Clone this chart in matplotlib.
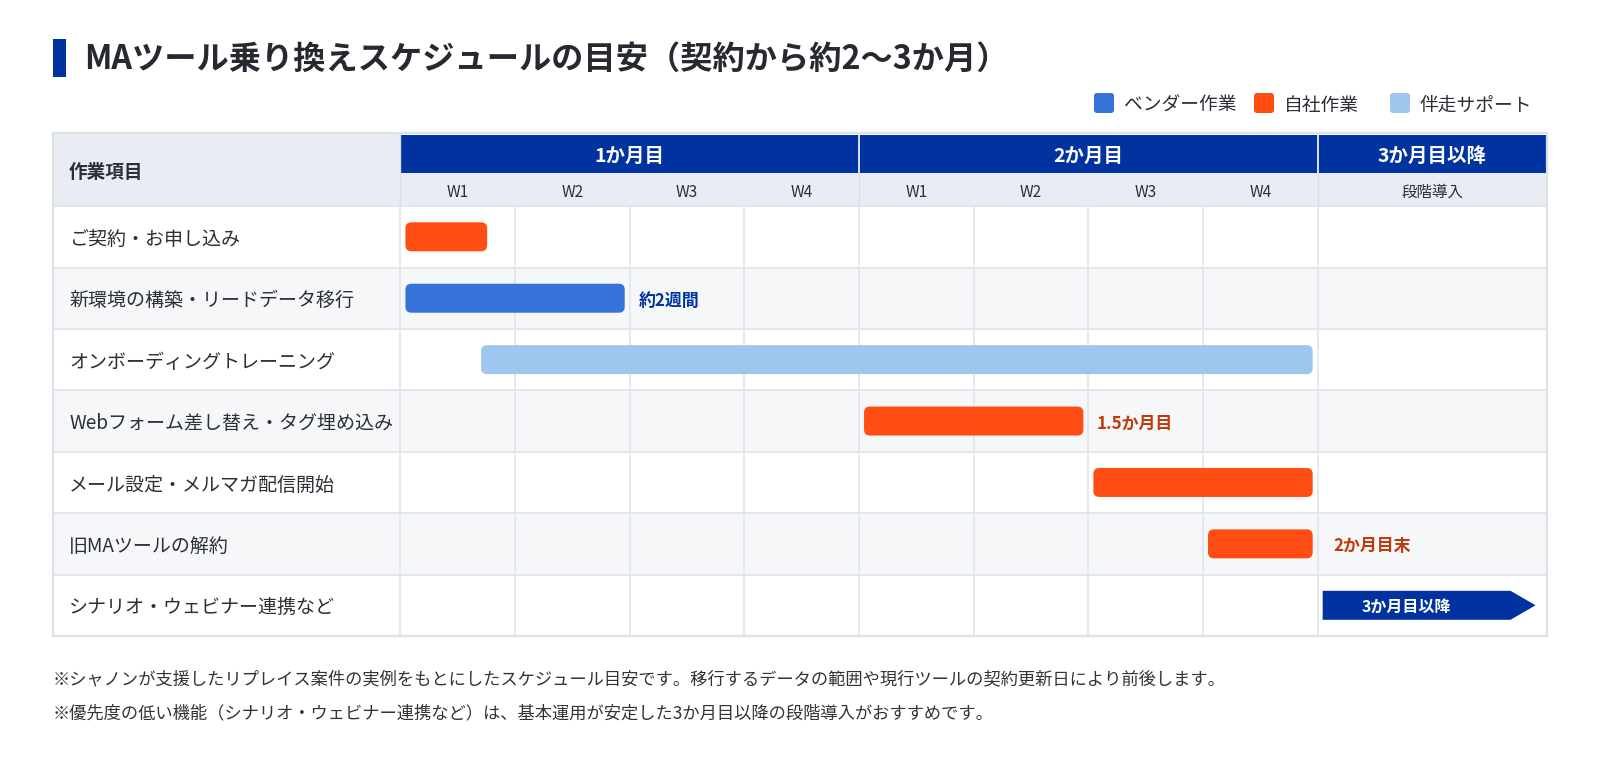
import matplotlib
matplotlib.use("Agg")
import matplotlib.pyplot as plt
from matplotlib.patches import Rectangle, FancyBboxPatch, Polygon

plt.rcParams['font.family'] = ['Noto Sans CJK JP', 'DejaVu Sans']

# ---------------- data ----------------
TITLE = "MAツール乗り換えスケジュールの目安（契約から約2〜3か月）"
LEGEND_LABELS = ["ベンダー作業", "自社作業", "伴走サポート"]
LEGEND_KINDS = ["vendor", "self", "support"]

MONTH_LABELS = ["1か月目", "2か月目", "3か月目以降"]
MONTH_START = [0, 4, 8]
MONTH_END = [4, 8, 10]
WEEK_LABELS = ["W1", "W2", "W3", "W4", "W1", "W2", "W3", "W4", "段階導入"]
WEEK_CENTERS = [0.5, 1.5, 2.5, 3.5, 4.5, 5.5, 6.5, 7.5, 9.0]

TASKS = ["ご契約・お申し込み",
         "新環境の構築・リードデータ移行",
         "オンボーディングトレーニング",
         "Webフォーム差し替え・タグ埋め込み",
         "メール設定・メルマガ配信開始",
         "旧MAツールの解約",
         "シナリオ・ウェビナー連携など"]
TASK_START = [0, 0, 0.66, 4, 6, 7, 8]        # weeks
TASK_END = [0.8, 2, 8, 6, 8, 8, 9.9]         # weeks
TASK_KIND = ["self", "vendor", "support", "self", "self", "self", "phase"]

ANNOT_TASK = [1, 3, 5]
ANNOT_TEXT = ["約2週間", "1.5か月目", "2か月目末"]
ANNOT_X = [2.076, 6.07, 8.137]
ANNOT_KIND = ["vendor_text", "self_text", "self_text"]
PHASE_TEXT = "3か月目以降"
PHASE_TEXT_X = 8.77

NOTES = ["※シャノンが支援したリプレイス案件の実例をもとにしたスケジュール目安です。移行するデータの範囲や現行ツールの契約更新日により前後します。",
         "※優先度の低い機能（シナリオ・ウェビナー連携など）は、基本運用が安定した3か月目以降の段階導入がおすすめです。"]

# ---------------- style ----------------
COL = {"vendor": "#3573d9", "self": "#ff4d14", "support": "#9ec6ef",
       "phase": "#00339f", "vendor_text": "#00339f", "self_text": "#c0390b"}
NAVY = "#00339f"
HEAD_BG = "#e8ecf3"
ALT_BG = "#f6f7f9"
GRID = "#e1e5ec"
TEXT = "#2b2f36"

W, H = 1600, 773
fig = plt.figure(figsize=(16, 7.73), dpi=100)
fig.patch.set_facecolor("white")

def fx(px):
    return px / W

def fy(py):
    return 1 - py / H

# table axes (pixel box 53..1547 x 133..636)
LABEL_W = 3.03
N = len(TASKS)
HEAD = 1.19
WEEKROW = 0.54
ax = fig.add_axes([fx(53), fy(636), (1547 - 53) / W, (636 - 133) / H])
ax.set_xlim(-LABEL_W, 10)
ax.set_ylim(N, -HEAD)
ax.axis("off")

px_x = (1547 - 53) / (10 + LABEL_W)       # px per week
px_y = (636 - 133) / (N + HEAD)           # px per row
inset = 5 / px_x
bar_h = 29 / px_y
rad = 6 / px_x
aspect = px_x / px_y
dy = 2.5 / px_y                           # text baseline nudge

# header
ax.add_patch(Rectangle((-LABEL_W, -HEAD), LABEL_W, HEAD, fc=HEAD_BG, ec="none", zorder=0))
ax.add_patch(Rectangle((0, -WEEKROW), 10, WEEKROW, fc=HEAD_BG, ec="none", zorder=0))
for s, e, lab in zip(MONTH_START, MONTH_END, MONTH_LABELS):
    ax.add_patch(Rectangle((s, -HEAD + 0.03), e - s, HEAD - WEEKROW - 0.03, fc=NAVY,
                           ec="none", zorder=0.5))
    ax.text((s + e) / 2, (-HEAD + 0.03 - WEEKROW) / 2 + dy, lab, color="white", fontsize=14,
            fontweight="bold", ha="center", va="center", zorder=5)
for s in MONTH_START[1:]:
    ax.plot([s, s], [-HEAD, -WEEKROW], color="white", lw=1.2, zorder=1)
    ax.plot([s, s], [-WEEKROW, 0], color="#d9dee7", lw=1.0, zorder=1)
ax.plot([0, 0], [-HEAD, 0], color="#d9dee7", lw=1.0, zorder=1)
for c, lab in zip(WEEK_CENTERS, WEEK_LABELS):
    ax.text(c, -WEEKROW / 2 + dy, lab, color=TEXT, fontsize=11.2, ha="center", va="center",
            zorder=5)
ax.text(-LABEL_W + 16 / px_x, -HEAD / 2 + dy, "作業項目", color=TEXT, fontsize=13.4,
        fontweight="bold", ha="left", va="center", zorder=5)

# body rows
for i, name in enumerate(TASKS):
    fc = "white" if i % 2 == 0 else ALT_BG
    ax.add_patch(Rectangle((-LABEL_W, i), LABEL_W + 10, 1, fc=fc, ec="none", zorder=0))
    ax.text(-LABEL_W + 16 / px_x, i + 0.5 + dy, name, color=TEXT, fontsize=13.7,
            ha="left", va="center", zorder=5)
for y in range(0, N + 1):
    ax.plot([-LABEL_W, 10], [y, y], color=GRID, lw=1.3, zorder=1)
for x in range(0, 9):
    ax.plot([x, x], [0, N], color=GRID, lw=1.2, zorder=1)
# outer border
ax.add_patch(Rectangle((-LABEL_W, -HEAD), LABEL_W + 10, N + HEAD, fc="none",
                       ec="#dde1e8", lw=1.6, clip_on=False, zorder=2))

# bars
for i, (s, e, k) in enumerate(zip(TASK_START, TASK_END, TASK_KIND)):
    y0 = i + 0.5 - bar_h / 2
    if k == "phase":
        tip = 25 / px_x
        xs = s + inset
        poly = Polygon([[xs, y0], [e - tip, y0], [e, i + 0.5], [e - tip, y0 + bar_h],
                        [xs, y0 + bar_h]], closed=True, fc=COL[k], ec="none", zorder=3)
        ax.add_patch(poly)
        ax.text(PHASE_TEXT_X, i + 0.5 + dy * 0.6, PHASE_TEXT, color="white", fontsize=11.5,
                fontweight="bold", ha="center", va="center", zorder=5)
    else:
        ax.add_patch(FancyBboxPatch((s + inset, y0), e - s - 2 * inset, bar_h,
                                    boxstyle=f"round,pad=0,rounding_size={rad}",
                                    mutation_aspect=aspect, fc=COL[k], ec="none", zorder=3))

for t, txt, x, k in zip(ANNOT_TASK, ANNOT_TEXT, ANNOT_X, ANNOT_KIND):
    ax.text(x, t + 0.5 + dy, txt, color=COL[k], fontsize=12.2, fontweight="bold",
            ha="left", va="center", zorder=5)

# title
fig.add_artist(Rectangle((fx(53), fy(77)), fx(13), 38 / H, transform=fig.transFigure,
                         fc=NAVY, ec="none"))
fig.text(fx(84), fy(59), TITLE, fontsize=23.2, fontweight="bold", color="#262a30",
         ha="left", va="center")

# legend
LEG_SQ_X = [1094, 1254, 1390]
for lx, lab, k in zip(LEG_SQ_X, LEGEND_LABELS, LEGEND_KINDS):
    fig.add_artist(FancyBboxPatch((fx(lx), fy(113)), fx(20), 20 / H,
                                  boxstyle=f"round,pad=0,rounding_size={3 / W}",
                                  mutation_aspect=W / H, transform=fig.transFigure,
                                  fc=COL[k], ec="none"))
    fig.text(fx(lx + 30), fy(105), lab, fontsize=13.5, color=TEXT, ha="left", va="center")

# notes
for j, note in enumerate(NOTES):
    fig.text(fx(53), fy(679 + 34 * j), note, fontsize=12.45, color="#333333",
             ha="left", va="center")

fig.savefig("out.png", dpi=100, facecolor="white")
